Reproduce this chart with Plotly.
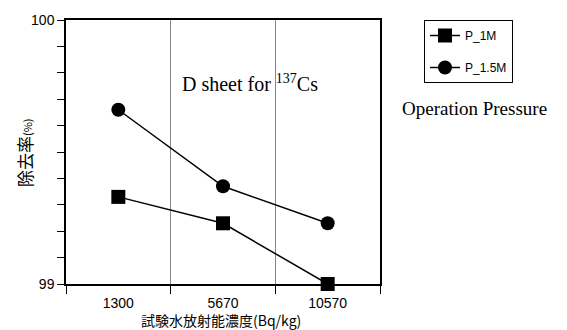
import plotly.graph_objects as go

categories = ["1300", "5670", "10570"]
p_1m = [99.33, 99.23, 99.00]
p_15m = [99.66, 99.37, 99.23]
series_names = ["P_1M", "P_1.5M"]
y_tick_vals = [99.0, 99.1, 99.2, 99.3, 99.4, 99.5, 99.6, 99.7, 99.8, 99.9, 100.0]
y_tick_text = ["99", "", "", "", "", "", "", "", "", "", "100"]

W, H = 567, 330
L, R, T, B = 66, 187, 18, 46
pw, ph = W - L - R, H - T - B


def px(x):
    return (x - L) / pw


def py(y):
    return (H - B - y) / ph


fig = go.Figure()
fig.add_trace(go.Scatter(
    x=categories, y=p_1m, name=series_names[0], mode="lines+markers",
    line=dict(color="black", width=1.5),
    marker=dict(symbol="square", size=14, color="black"),
    legendgroup="a", cliponaxis=False,
))
fig.add_trace(go.Scatter(
    x=categories, y=p_15m, name=series_names[1], mode="lines+markers",
    line=dict(color="black", width=1.5),
    marker=dict(symbol="circle", size=14, color="black"),
    legendgroup="b", cliponaxis=False,
))

fig.update_layout(
    width=W, height=H,
    margin=dict(l=L, r=R, t=T, b=B),
    paper_bgcolor="white", plot_bgcolor="white",
    font=dict(family="Liberation Sans, Arial, sans-serif", size=14, color="black"),
    showlegend=True,
    legend=dict(
        x=px(424), y=1.0, xanchor="left", yanchor="top",
        bordercolor="black", borderwidth=1,
        font=dict(family="Liberation Sans, Arial, sans-serif", size=12, color="black"),
        tracegroupgap=13, entrywidth=84,
    ),
    xaxis=dict(
        type="category", range=[-0.5, 2.5], tickson="boundaries", showgrid=True,
        gridcolor="#888888", gridwidth=1,
        ticks="outside", ticklen=8, tickcolor="black",
        showline=True, linecolor="black", linewidth=1.5, mirror=True,
        tickfont=dict(size=14), zeroline=False, ticklabelstandoff=5,
    ),
    yaxis=dict(
        range=[99, 100], tickvals=y_tick_vals, ticktext=y_tick_text,
        ticks="outside", ticklen=7, tickcolor="black",
        showgrid=False, zeroline=False,
        showline=True, linecolor="black", linewidth=1.5, mirror=True,
        tickfont=dict(size=14),
    ),
    annotations=[
        dict(text="D sheet for <sup>137</sup>Cs", x=px(250), y=py(81),
             font=dict(family="Liberation Serif, Times New Roman, serif", size=20)),
        dict(text="Operation Pressure", x=px(474), y=py(107),
             font=dict(family="Liberation Serif, Times New Roman, serif", size=19)),
        dict(text="試験水放射能濃度(Bq/kg)", x=px(221), y=py(320),
             font=dict(family="Noto Sans CJK JP, sans-serif", size=14)),
        dict(text="除去率<span style='font-size:11px'>(%)</span>", x=px(25), y=py(152),
             textangle=-90, font=dict(family="Noto Sans CJK JP, sans-serif", size=17)),
    ],
)
fig.update_annotations(xref="paper", yref="paper", xanchor="center", yanchor="middle",
                       showarrow=False)

fig.write_html("out.html")
